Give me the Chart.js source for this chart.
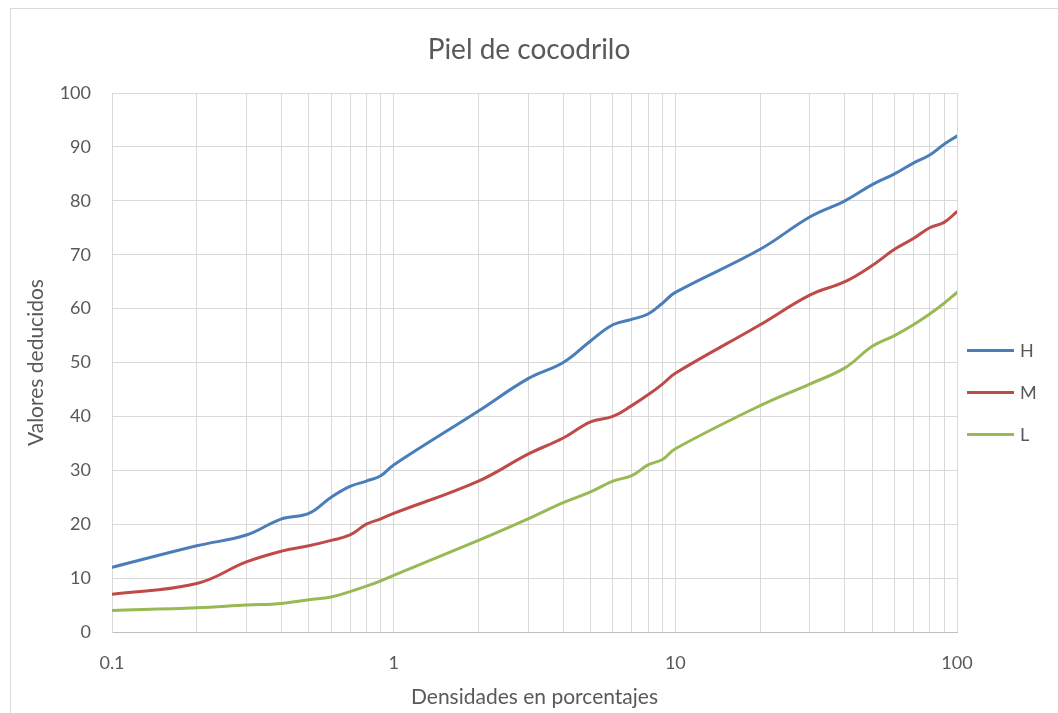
<!DOCTYPE html>
<html lang="es">
<head>
<meta charset="utf-8">
<title>Piel de cocodrilo</title>
<script src="https://cdn.jsdelivr.net/npm/chart.js@4.4.1/dist/chart.umd.min.js"></script>
<style>
  html, body { margin: 0; padding: 0; background: #ffffff; }
  #wrap { position: relative; width: 1058px; height: 713px; }
</style>
</head>
<body>
<div id="wrap"><canvas id="chart" width="1058" height="713"></canvas></div>
<script>
// Densidad (%) en escala logarítmica
const densidades = [0.1, 0.2, 0.3, 0.4, 0.5, 0.6, 0.7, 0.8, 0.9, 1, 2, 3, 4, 5, 6, 7, 8, 9, 10, 20, 30, 40, 50, 60, 70, 80, 90, 100];

// Valores deducidos por nivel de severidad
const severidadAlta  = [12, 16, 18, 21, 22, 25, 27, 28, 29, 31, 41, 47, 50, 54, 57, 58, 59, 61, 63, 71, 77, 80, 83, 85, 87, 88.5, 90.5, 92];
const severidadMedia = [7, 9, 13, 15, 16, 17, 18, 20, 21, 22, 28, 33, 36, 39, 40, 42, 44, 46, 48, 57, 62.5, 65, 68, 71, 73, 75, 76, 78];
const severidadBaja  = [4, 4.5, 5, 5.3, 6, 6.5, 7.5, 8.5, 9.5, 10.5, 17, 21, 24, 26, 28, 29, 31, 32, 34, 42, 46, 49, 53, 55, 57, 59, 61, 63];

const nombresSeries = ['H', 'M', 'L'];
const coloresSeries = ['#4a7ebb', '#be4b48', '#98b954'];

// Marcas del eje X (rejilla en cada múltiplo; etiquetas solo en potencias de 10)
const marcasX = [0.1, 0.2, 0.3, 0.4, 0.5, 0.6, 0.7, 0.8, 0.9, 1, 2, 3, 4, 5, 6, 7, 8, 9, 10, 20, 30, 40, 50, 60, 70, 80, 90, 100];
const etiquetasX = [0.1, 1, 10, 100];

const FONT = 'Lato, "Open Sans", "DejaVu Sans", sans-serif';
const TEXT = '#595959';
const GRID = '#d9d9d9';

function serie(valores) {
  return densidades.map((d, i) => ({ x: d, y: valores[i] }));
}

// Marco exterior del gráfico y título centrado en todo el lienzo
const marco = {
  id: 'marco',
  afterLayout(chart) {
    const t = chart.titleBlock;
    if (t) {
      t.left = 0;
      t.right = chart.width;
      t.width = chart.width;
    }
  },
  beforeDraw(chart) {
    const ctx = chart.ctx;
    ctx.save();
    ctx.fillStyle = '#ffffff';
    ctx.fillRect(0, 0, chart.width, chart.height);
    ctx.strokeStyle = '#d9d9d9';
    ctx.lineWidth = 1;
    ctx.strokeRect(10.5, 8.5, chart.width + 20, chart.height - 4);
    ctx.restore();
  }
};

// Leyenda a la derecha del área de trazado
const leyenda = {
  id: 'leyenda',
  afterDraw(chart) {
    const ctx = chart.ctx;
    const area = chart.chartArea;
    const x0 = area.right + 10;
    const yCentro = (area.top + area.bottom) / 2 + 30;
    const paso = 42;
    ctx.save();
    ctx.font = '18px ' + FONT;
    ctx.textBaseline = 'middle';
    ctx.textAlign = 'left';
    chart.data.datasets.forEach((ds, i) => {
      const y = yCentro + (i - 1) * paso;
      ctx.strokeStyle = ds.borderColor;
      ctx.lineWidth = 3;
      ctx.beginPath();
      ctx.moveTo(x0, y);
      ctx.lineTo(x0 + 47, y);
      ctx.stroke();
      ctx.fillStyle = TEXT;
      ctx.fillText(ds.label, x0 + 53, y + 1);
    });
    ctx.restore();
  }
};

new Chart(document.getElementById('chart'), {
  type: 'line',
  data: {
    datasets: [
      { label: nombresSeries[0], data: serie(severidadAlta),  borderColor: coloresSeries[0] },
      { label: nombresSeries[1], data: serie(severidadMedia), borderColor: coloresSeries[1] },
      { label: nombresSeries[2], data: serie(severidadBaja),  borderColor: coloresSeries[2] }
    ]
  },
  options: {
    responsive: false,
    animation: false,
    parsing: false,
    elements: {
      line: { borderWidth: 3, tension: 0.4, fill: false, borderCapStyle: 'round' },
      point: { radius: 0, hoverRadius: 0 }
    },
    layout: { padding: { left: 10, right: 101, top: 8, bottom: 0 } },
    plugins: {
      legend: { display: false },
      tooltip: { enabled: false },
      title: {
        display: true,
        text: 'Piel de cocodrilo',
        color: TEXT,
        font: { family: FONT, size: 28, weight: 'normal', lineHeight: 1.2 },
        padding: { top: 25, bottom: 26.4 }
      }
    },
    scales: {
      x: {
        type: 'logarithmic',
        min: 0.1,
        max: 100,
        afterBuildTicks(scale) {
          scale.ticks = marcasX.map(v => ({ value: v, major: etiquetasX.includes(v) }));
        },
        afterFit(scale) { scale.height = 81; },
        grid: { color: GRID, lineWidth: 1, drawTicks: false },
        border: { color: '#bfbfbf' },
        ticks: {
          autoSkip: false,
          maxRotation: 0,
          padding: 20,
          color: TEXT,
          font: { family: FONT, size: 18 },
          callback(value) { return etiquetasX.includes(value) ? String(value) : ''; }
        },
        title: {
          display: true,
          text: 'Densidades en porcentajes',
          color: TEXT,
          font: { family: FONT, size: 21, lineHeight: 1.2 },
          padding: { top: 3, bottom: 3 }
        }
      },
      y: {
        min: 0,
        max: 100,
        afterFit(scale) { scale.width = 102; },
        grid: { color: GRID, lineWidth: 1, drawTicks: false },
        border: { color: GRID },
        ticks: {
          stepSize: 10,
          padding: 21,
          color: TEXT,
          font: { family: FONT, size: 18 }
        },
        title: {
          display: true,
          text: 'Valores deducidos',
          color: TEXT,
          font: { family: FONT, size: 21, lineHeight: 1.2 },
          padding: { top: 14, bottom: 14 }
        }
      }
    }
  },
  plugins: [marco, leyenda]
});
</script>
</body>
</html>
